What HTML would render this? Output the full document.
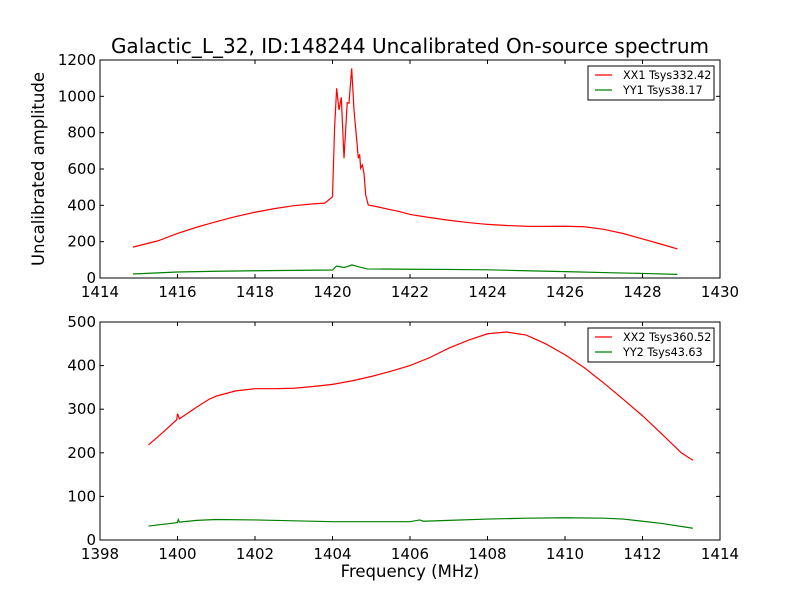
<!DOCTYPE html>
<html><head><meta charset="utf-8"><style>
body{margin:0;background:#fff;}
svg text{font-family:"DejaVu Sans","Liberation Sans",sans-serif;fill:#000;}
</style></head><body>
<svg id="chart" width="800" height="600" xmlns="http://www.w3.org/2000/svg">
<rect width="800" height="600" fill="#fff"/>
<text x="410" y="53" font-size="20" text-anchor="middle">Galactic_L_32, ID:148244 Uncalibrated On-source spectrum</text>
<text transform="translate(44,169) rotate(-90)" font-size="16.5" text-anchor="middle">Uncalibrated amplitude</text>
<text x="410" y="577" font-size="16.5" text-anchor="middle">Frequency (MHz)</text>
<g id="p1"></g><g id="p2"></g>
</svg>
<script>
// Top panel data
const xx1Freq = [1414.85,1415.5,1416,1416.5,1417,1417.5,1418,1418.5,1419,1419.5,1419.8,1420.0,1420.055,1420.107,1420.168,1420.227,1420.297,1420.38,1420.426,1420.495,1420.555,1420.59,1420.625,1420.666,1420.7,1420.728,1420.77,1420.813,1420.857,1420.924,1421.2,1421.74,1422,1422.5,1423,1423.5,1424,1424.5,1425,1425.5,1426,1426.5,1427,1427.5,1428,1428.5,1428.9];
const xx1Amp  = [170,205,245,280,310,338,362,382,398,408,412,447,833,1044,925,995,659,965,962,1154,925,842,760,659,680,604,622,576,457,402,390,365,350,333,318,305,295,289,285,284,285,282,268,245,215,185,160];
const yy1Freq = [1414.85,1416,1417,1418,1419,1420,1420.1,1420.2,1420.3,1420.4,1420.5,1420.7,1420.9,1422,1423,1424,1425,1426,1427,1428,1428.9];
const yy1Amp  = [22,33,37,40,42,44,65,62,58,64,72,60,50,48,47,45,40,35,30,25,20];
// Bottom panel data
const xx2Freq = [1399.25,1399.6,1399.98,1400.0,1400.05,1400.5,1400.8,1401,1401.5,1402,1402.5,1403,1403.5,1404,1404.5,1405,1405.5,1406,1406.5,1407,1407.5,1408,1408.5,1409,1409.5,1410,1410.5,1411,1411.5,1412,1412.5,1413,1413.3];
const xx2Amp  = [218,245,276,290,278,305,322,330,342,347,347,348,352,357,365,375,387,400,418,440,458,473,477,470,450,425,395,360,323,285,243,200,183];
const yy2Freq = [1399.25,1400,1400.02,1400.05,1400.5,1401,1402,1403,1404,1405,1406,1406.25,1406.35,1407,1408,1409,1410,1411,1411.5,1412,1412.5,1413.3];
const yy2Amp  = [32,40,47,41,45,47,46,44,42,42,42,46,43,45,48,50,51,50,48,43,38,27];
const ticksX1 = [1414,1416,1418,1420,1422,1424,1426,1428,1430];
const ticksY1 = [0,200,400,600,800,1000,1200];
const ticksX2 = [1398,1400,1402,1404,1406,1408,1410,1412,1414];
const ticksY2 = [0,100,200,300,400,500];

const NS='http://www.w3.org/2000/svg';
function mk(parent,tag,attrs){const e=document.createElementNS(NS,tag);for(const k in attrs)e.setAttribute(k,attrs[k]);parent.appendChild(e);return e;}

function panel(g,box,xd,yd,tx,ty,series,legend,pfx){
  const sx=v=>box.x+(v-xd[0])/(xd[1]-xd[0])*box.w;
  const sy=v=>box.y+box.h-(v-yd[0])/(yd[1]-yd[0])*box.h;
  series.forEach(s=>{
    const p=mk(g,'polyline',{points:s.f.map((f,i)=>sx(f).toFixed(2)+','+sy(s.a[i]).toFixed(2)).join(' '),fill:'none',stroke:s.c,'stroke-width':1.2});
    
    
  });
  const fr=mk(g,'rect',{x:box.x,y:box.y,width:box.w,height:box.h,fill:'none',stroke:'#000','stroke-width':1});
  
  
  tx.forEach(v=>{const X=sx(v);
    mk(g,'line',{x1:X,x2:X,y1:box.y+box.h,y2:box.y+box.h-4,stroke:'#000'});
    mk(g,'line',{x1:X,x2:X,y1:box.y,y2:box.y+4,stroke:'#000'});
    const t=mk(g,'text',{x:X,y:box.y+box.h+19,'font-size':15,'text-anchor':'middle'});t.textContent=v;
    
    
  });
  ty.forEach(v=>{const Y=sy(v);
    mk(g,'line',{x1:box.x,x2:box.x+4,y1:Y,y2:Y,stroke:'#000'});
    mk(g,'line',{x1:box.x+box.w,x2:box.x+box.w-4,y1:Y,y2:Y,stroke:'#000'});
    const t=mk(g,'text',{x:box.x-4,y:Y+5,'font-size':15,'text-anchor':'end'});t.textContent=v;
    
    
  });
  const lg=mk(g,'g',{});
  
  
  const lx=box.x+box.w-132, ly=box.y+6;
  mk(lg,'rect',{x:lx,y:ly,width:126,height:34,fill:'#fff',stroke:'#000','stroke-width':1});
  legend.forEach((l,i)=>{
    const yy=ly+9+i*15;
    mk(lg,'line',{x1:lx+7,x2:lx+24,y1:yy,y2:yy,stroke:l.c,'stroke-width':1.2});
    const t=mk(lg,'text',{x:lx+35,y:yy+4,'font-size':11.2});t.textContent=l.t;
    
    
  });
}
panel(document.getElementById('p1'),{x:100,y:60,w:620,h:218},[1414,1430],[0,1200],ticksX1,ticksY1,
  [{f:xx1Freq,a:xx1Amp,c:'#ff0000',name:'xx1-line'},{f:yy1Freq,a:yy1Amp,c:'#008000',name:'yy1-line'}],
  [{c:'#ff0000',t:'XX1 Tsys332.42'},{c:'#008000',t:'YY1 Tsys38.17'}],'top');
panel(document.getElementById('p2'),{x:100,y:322,w:620,h:218},[1398,1414],[0,500],ticksX2,ticksY2,
  [{f:xx2Freq,a:xx2Amp,c:'#ff0000',name:'xx2-line'},{f:yy2Freq,a:yy2Amp,c:'#008000',name:'yy2-line'}],
  [{c:'#ff0000',t:'XX2 Tsys360.52'},{c:'#008000',t:'YY2 Tsys43.63'}],'bottom');
</script>
</body></html>
